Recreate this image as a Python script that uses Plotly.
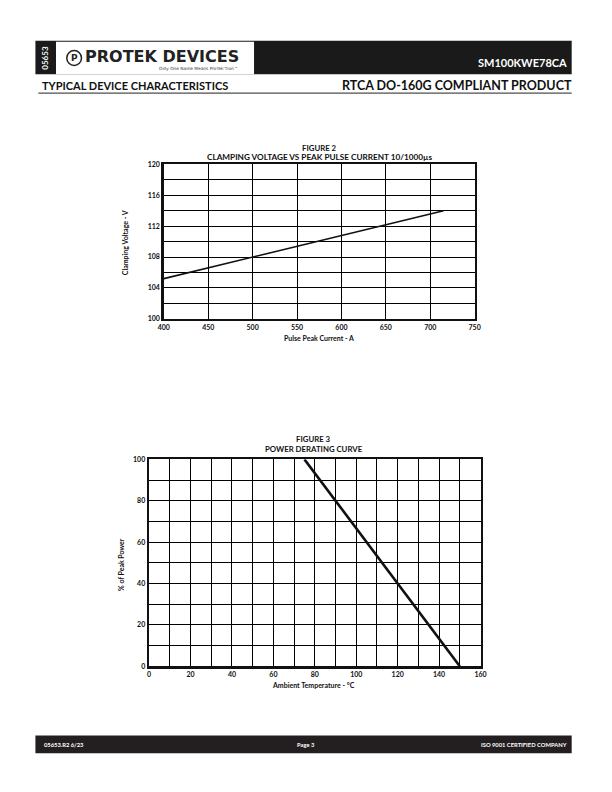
import plotly.graph_objects as go

W, H = 612, 792

# Figure 2 data
current_a = [400, 450, 500, 550, 600, 650, 700, 715]
clamp_v = [105.2, 106.6, 108.0, 109.4, 110.8, 112.2, 113.6, 114.0]

# Figure 3 data
temp_c = [75, 150]
pct_power = [100, 0]

FONT = "Lato"

def px(x):
    return x / W

def py(y):
    return 1 - y / H

fig = go.Figure()

fig.add_trace(go.Scatter(x=current_a, y=clamp_v, mode="lines",
                         line=dict(color="#111", width=1.6),
                         xaxis="x", yaxis="y", showlegend=False, hoverinfo="skip"))
fig.add_trace(go.Scatter(x=temp_c, y=pct_power, mode="lines",
                         line=dict(color="#111", width=2.6),
                         xaxis="x2", yaxis="y2", showlegend=False, hoverinfo="skip"))

tickfont = dict(family=FONT, size=7, color="#111", weight="bold")
GW = 1
GC = "#000"
minor = dict(showgrid=True, gridcolor=GC, gridwidth=GW)
common = dict(showline=True, linecolor="#111", linewidth=2.5, mirror=True,
              showgrid=True, gridcolor=GC, gridwidth=GW, zeroline=False,
              ticks="", tickfont=tickfont, fixedrange=True)

fig.update_layout(
    width=W, height=H, margin=dict(l=0, r=0, t=0, b=0),
    paper_bgcolor="white", plot_bgcolor="white",
    xaxis=dict(domain=[px(161), px(478)], range=[400, 750], dtick=50, tick0=400,
               anchor="y", **common),
    yaxis=dict(domain=[py(317), py(161)], range=[100, 120], dtick=4, tick0=100,
               anchor="x", minor=dict(dtick=2, **minor), **common),
    xaxis2=dict(domain=[px(146), px(484)], range=[0, 160], dtick=20, tick0=0,
                anchor="y2", minor=dict(dtick=10, **minor), **common),
    yaxis2=dict(domain=[py(668), py(459)], range=[0, 100], dtick=20, tick0=0,
                anchor="x2", minor=dict(dtick=10, **minor), **common),
)

shapes = []
# header black bar
shapes.append(dict(type="rect", xref="paper", yref="paper", x0=px(30), x1=px(577),
                   y0=py(70), y1=py(36), fillcolor="#1a1a1a", line=dict(width=0), layer="below"))
# white logo box
shapes.append(dict(type="rect", xref="paper", yref="paper", x0=px(51), x1=px(253),
                   y0=py(70), y1=py(37), fillcolor="white", line=dict(width=0), layer="below"))
# logo circle
shapes.append(dict(type="circle", xref="paper", yref="paper", x0=px(62), x1=px(77),
                   y0=py(61), y1=py(46), fillcolor="white", line=dict(color="#222", width=1.5)))
# underline
shapes.append(dict(type="line", xref="paper", yref="paper", x0=px(33), x1=px(577),
                   y0=py(89), y1=py(89), line=dict(color="#222", width=1)))
# footer bar
shapes.append(dict(type="rect", xref="paper", yref="paper", x0=px(30), x1=px(577),
                   y0=py(756), y1=py(738), fillcolor="#231f20", line=dict(width=0), layer="below"))
fig.update_layout(shapes=shapes)

ann = []
def text(x, y, s, size, color="#111", xanchor="center", weight="bold", angle=0, family=FONT):
    ann.append(dict(x=px(x), y=py(y), xref="paper", yref="paper", text=s, showarrow=False,
                    xanchor=xanchor, yanchor="middle", textangle=angle, borderpad=0,
                    font=dict(family=family, size=size, color=color, weight=weight)))

# header
text(40, 53, "05653", 8, color="white", angle=-90)
text(69.5, 53.5, "P", 9, color="#222", family="DejaVu Sans")
text(80, 52.5, "PROTEK DEVICES", 16, color="#222", xanchor="left", weight="bold", family="DejaVu Sans")
text(238, 64.5, "Only One Name Means ProTek'Tion™", 4.3, color="#333", xanchor="right", weight="normal", family="DejaVu Sans")
text(573, 58, "SM100KWE78CA", 11, color="white", xanchor="right")
text(36, 81.5, "TYPICAL DEVICE CHARACTERISTICS", 11, xanchor="left")
text(578, 81.5, "RTCA DO-160G COMPLIANT PRODUCT", 12.5, xanchor="right")

# figure 2 titles
text(320, 144, "FIGURE 2", 7.8)
text(320, 154, "CLAMPING VOLTAGE VS PEAK PULSE CURRENT 10/1000µs", 8.2)
text(319, 336, "Pulse Peak Current - A", 7)
text(121, 240, "Clamping Voltage - V", 7, angle=-90)

# figure 3 titles
text(314, 438, "FIGURE 3", 7.8)
text(314, 449, "POWER DERATING CURVE", 7.8)
text(314, 687, "Ambient Temperature - °C", 7)
text(118, 565, "% of Peak Power", 7, angle=-90)

# footer
text(38, 747, "05653.R2 6/23", 5.8, color="white", xanchor="left")
text(306, 747, "Page 3", 5.8, color="white")
text(573, 747, "ISO 9001 CERTIFIED COMPANY", 5.8, color="white", xanchor="right")

fig.update_layout(annotations=ann)

fig.write_html("out.html", config=dict(displayModeBar=False, staticPlot=True))
